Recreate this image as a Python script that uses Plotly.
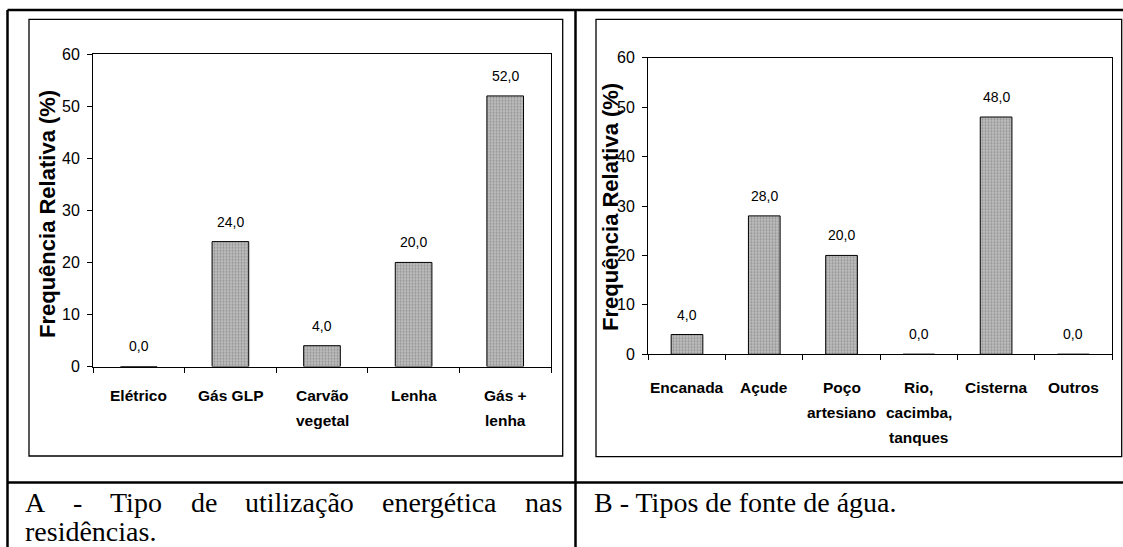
import plotly.graph_objects as go

# ---- data ----
energia_cats = ["Elétrico", "Gás GLP", "Carvão<br>vegetal", "Lenha", "Gás +<br>lenha"]
energia_vals = [0.0, 24.0, 4.0, 20.0, 52.0]

agua_cats = ["Encanada", "Açude", "Poço<br>artesiano", "Rio,<br>cacimba,<br>tanques", "Cisterna", "Outros"]
agua_vals = [4.0, 28.0, 20.0, 0.0, 48.0, 0.0]

y_ticks = [0, 10, 20, 30, 40, 50, 60]
y_title = "Frequência Relativa (%)"
caption_a_words = ["A", "-", "Tipo", "de", "utilização", "energética", "nas"]
caption_a_line2 = "residências."
caption_b = "B - Tipos de fonte de água."

W, H = 1123, 547


def px(x):
    return x / W


def py(y):
    return 1 - y / H


SERIF = "Liberation Serif, Times New Roman, serif"
SANS = "Liberation Sans, Arial, sans-serif"

bar_style = dict(
    color="#bcbcbc",
    line=dict(color="#000000", width=1),
    pattern=dict(shape=".", fgcolor="#646464", bgcolor="#bcbcbc", size=3, solidity=0.35),
)

fig = go.Figure()
fig.add_trace(go.Bar(x=energia_cats, y=energia_vals, marker=bar_style, width=0.4,
                     xaxis="x", yaxis="y", showlegend=False, hoverinfo="skip"))
fig.add_trace(go.Bar(x=agua_cats, y=agua_vals, marker=bar_style, width=0.41,
                     xaxis="x2", yaxis="y2", showlegend=False, hoverinfo="skip"))


def fmt(v):
    return f"{v:.1f}".replace(".", ",")


annotations = []
# value labels above each bar
for cats, vals, xr, yr in [(energia_cats, energia_vals, "x", "y"), (agua_cats, agua_vals, "x2", "y2")]:
    for c, v in zip(cats, vals):
        annotations.append(dict(x=c, y=v, xref=xr, yref=yr, text=fmt(v), showarrow=False,
                                yshift=20, yanchor="middle",
                                font=dict(family=SANS, size=14, color="#000")))

# category names under each axis, one annotation per line for wider line spacing
for cats, xr, first_y in [(energia_cats, "x", 395), (agua_cats, "x2", 387)]:
    for c in cats:
        for i, line in enumerate(c.split("<br>")):
            annotations.append(dict(x=c, y=py(first_y + 25 * i), xref=xr, yref="paper",
                                    text="<b>" + line + "</b>", showarrow=False,
                                    xanchor="center", yanchor="middle",
                                    font=dict(family=SANS, size=15.5, color="#000")))

# rotated y titles
for cx, cy in [(47, 214), (611, 207)]:
    annotations.append(dict(x=px(cx), y=py(cy), xref="paper", yref="paper", text="<b>" + y_title + "</b>",
                            textangle=-90, showarrow=False, xanchor="center", yanchor="middle",
                            font=dict(family=SANS, size=22, color="#000")))

# captions (first line of A spread across the cell width)
word_x = [23, 71, 108, 189, 243, 380, 523]
for w, x0 in zip(caption_a_words, word_x):
    annotations.append(dict(x=px(x0), y=py(502), xref="paper", yref="paper", text=w, showarrow=False,
                            xanchor="left", yanchor="middle", font=dict(family=SERIF, size=28, color="#000")))
annotations.append(dict(x=px(23), y=py(531), xref="paper", yref="paper", text=caption_a_line2, showarrow=False,
                        xanchor="left", yanchor="middle", font=dict(family=SERIF, size=28, color="#000")))
annotations.append(dict(x=px(592), y=py(502), xref="paper", yref="paper", text=caption_b, showarrow=False,
                        xanchor="left", yanchor="middle", font=dict(family=SERIF, size=28, color="#000")))

shapes = []
# table rules
for x0, y0, x1, y1 in [(7.5, 10, 1123, 10), (7.5, 10, 7.5, 547), (575.5, 10, 575.5, 547), (7.5, 482.5, 1123, 482.5)]:
    shapes.append(dict(type="line", xref="paper", yref="paper", x0=px(x0), y0=py(y0), x1=px(x1), y1=py(y1),
                       line=dict(color="#000", width=2.5)))
# chart frames
for x0, y0, x1, y1 in [(29, 19.3, 562.7, 456), (596, 19.3, 1121.7, 456.7)]:
    shapes.append(dict(type="rect", xref="paper", yref="paper", x0=px(x0), y0=py(y0), x1=px(x1), y1=py(y1),
                       line=dict(color="#000", width=1.3), fillcolor="rgba(0,0,0,0)", layer="below"))

xaxis_common = dict(type="category", tickson="boundaries", ticks="outside", ticklen=5, tickwidth=1,
                    tickcolor="#000", showline=True, linecolor="#000", linewidth=1, mirror=True,
                    showgrid=False, zeroline=False, automargin=False, showticklabels=False)
yaxis_common = dict(range=[0, 60], tickvals=y_ticks, ticks="outside", ticklen=5, tickwidth=1,
                    tickcolor="#000", showline=True, linecolor="#000", linewidth=1, mirror=True,
                    showgrid=False, zeroline=False, automargin=False, ticklabelstandoff=4,
                    tickfont=dict(family=SANS, size=16, color="#000"))

fig.update_layout(
    width=W, height=H, autosize=False,
    margin=dict(l=0, r=0, t=0, b=0),
    paper_bgcolor="white", plot_bgcolor="white",
    xaxis=dict(domain=[px(93), px(551)], anchor="y", **xaxis_common),
    yaxis=dict(domain=[py(366.5), py(54.3)], anchor="x", **yaxis_common),
    xaxis2=dict(domain=[px(648), px(1112)], anchor="y2", **xaxis_common),
    yaxis2=dict(domain=[py(354.3), py(57.7)], anchor="x2", **yaxis_common),
    annotations=annotations,
    shapes=shapes,
    bargap=0.6,
)

fig.write_html("out.html")
